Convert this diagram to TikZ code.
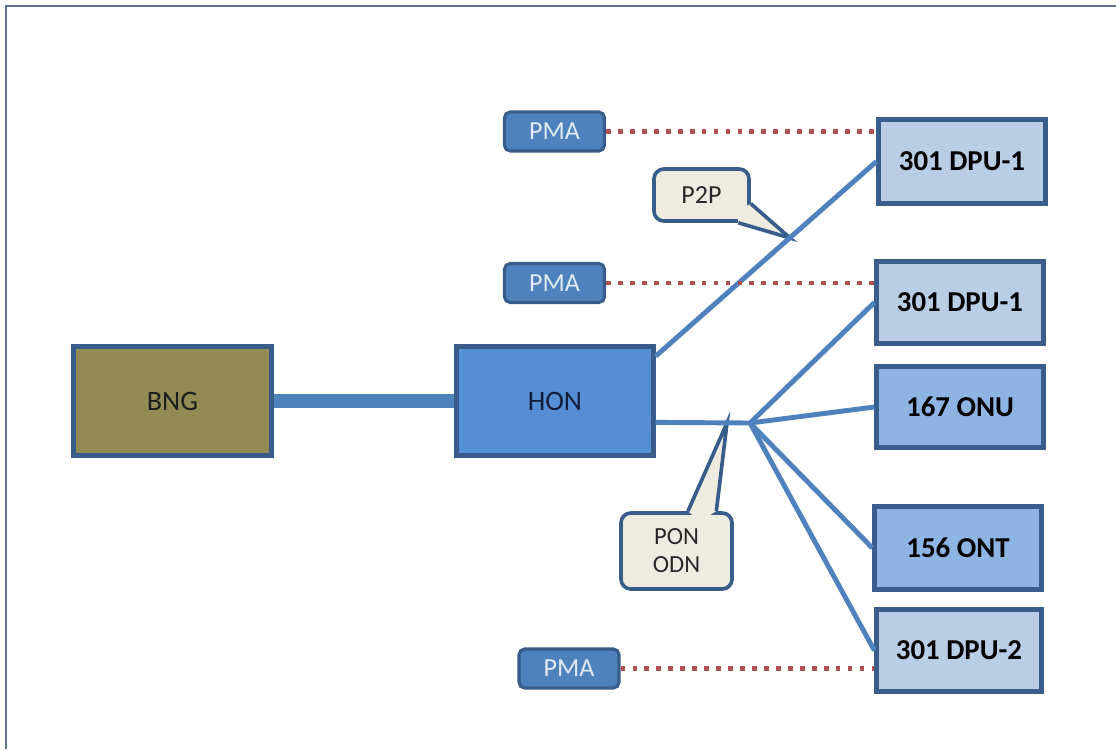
\documentclass[tikz,border=0pt]{standalone}
\usepackage{fontspec}
\setmainfont{Carlito}
\definecolor{edge}{RGB}{56,93,138}
\definecolor{honblue}{RGB}{85,142,213}
\definecolor{pmablue}{RGB}{79,129,189}
\definecolor{dpublue}{RGB}{185,205,229}
\definecolor{onublue}{RGB}{142,180,227}
\definecolor{bngolive}{RGB}{148,138,84}
\definecolor{wire}{RGB}{79,129,189}
\definecolor{dotred}{RGB}{176,80,80}
\definecolor{notefill}{RGB}{238,236,225}
\definecolor{framegray}{RGB}{95,115,135}

\begin{document}
\begin{tikzpicture}[x=0.025cm,y=-0.025cm,
	unit/.style args={#1x#2}{rectangle,draw=edge,line width=3pt,inner sep=0pt,
		minimum width=#1*0.025cm,minimum height=#2*0.025cm,
		font=\fontsize{20pt}{24pt}\selectfont},
	cpe/.style={font=\fontsize{20.5pt}{24pt}\selectfont\bfseries,text=black},
	pma/.style={rectangle,rounded corners=4pt,draw=edge,line width=2.2pt,fill=pmablue,
		minimum width=100*0.025cm,minimum height=39*0.025cm,inner sep=0pt,
		text={rgb,255:red,225;green,235;blue,248},font=\fontsize{18.5pt}{21pt}\selectfont},
	note/.style={rectangle,rounded corners=7pt,draw=edge,line width=2.6pt,fill=notefill,
		inner sep=0pt,text={rgb,255:red,40;green,40;blue,40},align=center},
	link/.style={draw=wire,line width=3.5pt},
	trunk/.style={draw=wire,line width=10.6pt},
	pmaline/.style={draw=dotred,line width=3.4pt,dash pattern=on 3.4pt off 5.1pt}]
	\useasboundingbox (0,0) rectangle (1116,749);
	\draw[framegray,line width=1.5pt] (6,749) -- (6,6) -- (1116,6);

	\node[unit=198x109,fill=bngolive,text={rgb,255:red,30;green,30;blue,30}] (bng) at (172.5,401) {BNG};
	\node[unit=197x109,fill=honblue,text={rgb,255:red,20;green,30;blue,60}] (hon) at (555,401) {HON};
	\node[unit=167x84,fill=dpublue,cpe] (dpuA) at (962,161.5) {301 DPU-1};
	\node[unit=167x82,fill=dpublue,cpe] (dpuB) at (960,302.5) {301 DPU-1};
	\node[unit=167x81,fill=onublue,cpe] (onu) at (960,407) {167 ONU};
	\node[unit=167x83,fill=onublue,cpe] (ont) at (958,548) {156 ONT};
	\node[unit=165x82,fill=dpublue,cpe] (dpuC) at (959,650.5) {301 DPU-2};

	\node[pma] (pmaA) at (554.5,131.5) {PMA};
	\node[pma] (pmaB) at (554.5,283) {PMA};
	\node[pma] (pmaC) at (569,668.5) {PMA};

	\coordinate (split) at (750,423);
	\coordinate (ptptip) at (790,238);
	\coordinate (pontip) at (727,423);

	\node[note,minimum width=95*0.025cm,minimum height=52*0.025cm,
		font=\fontsize{18.5pt}{21pt}\selectfont] (ptp) at (701.5,195) {P2P};
	\fill[notefill] ([shift={(-14,-12)}]ptp.south east) -- (ptp.-10) -- (ptptip) -- (ptp.-37) -- cycle;
	\draw[edge,line width=2.6pt,line join=miter] (ptp.-10) -- (ptptip) -- (ptp.-37);

	\node[note,minimum width=111*0.025cm,minimum height=76*0.025cm,
		font=\fontsize{17.5pt}{20pt}\selectfont] (pon) at (676.5,551) {PON\\ODN};
	\fill[notefill] ([shift={(0,10)}]pon.60) -- (pon.74) -- (pontip) -- (pon.45) -- cycle;
	\draw[edge,line width=2.6pt,line join=miter] (pon.74) -- (pontip) -- (pon.45);

	\draw[trunk] (bng.east) -- (hon.west);
	\draw[link] (hon.24) -- (dpuA.west);
	\draw[link] (hon.-12) -- (split);
	\foreach \d in {dpuB,onu,ont,dpuC}
	{
		\draw[link] (split) -- (\d.west);
	}
	\foreach \p/\d in {pmaA/dpuA,pmaB/dpuB,pmaC/dpuC}
	{
		\draw[pmaline] (\p.east) -- (\p.east -| \d.west);
	}
\end{tikzpicture}
\end{document}
